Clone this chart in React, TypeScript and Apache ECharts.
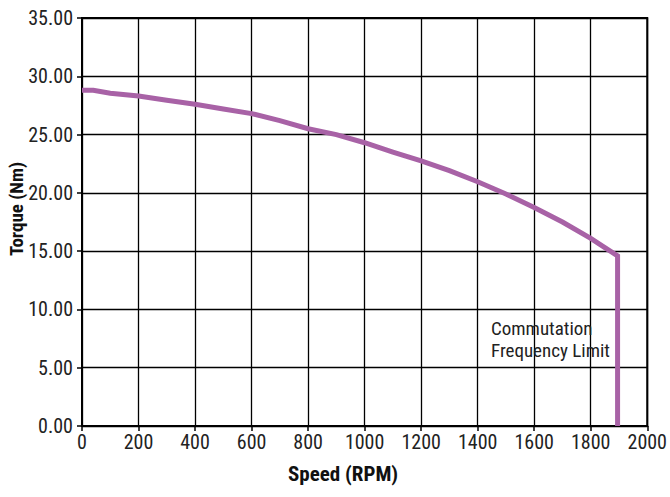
import React, { useEffect, useRef } from "react";
import * as echarts from "echarts";

const speed = [0, 40, 100, 200, 300, 400, 500, 600, 700, 800, 900, 1000, 1100, 1200, 1300, 1400, 1500, 1600, 1700, 1800, 1850, 1895, 1895];
const torque = [28.8, 28.8, 28.55, 28.3, 27.95, 27.6, 27.2, 26.8, 26.2, 25.5, 25.0, 24.3, 23.5, 22.75, 21.9, 20.95, 19.9, 18.75, 17.5, 16.1, 15.3, 14.6, 0];
const xTicks = [0, 200, 400, 600, 800, 1000, 1200, 1400, 1600, 1800, 2000];
const xName = "Speed (RPM)";
const yName = "Torque (Nm)";
const note = "Commutation\nFrequency Limit";

const FONT = "'Roboto Condensed', 'Liberation Sans', sans-serif";

export default function App() {
  const ref = useRef<HTMLDivElement>(null);
  useEffect(() => {
    const chart = echarts.init(ref.current!, null, { renderer: "svg" });
    chart.setOption({
      animation: false,
      grid: { left: 82, right: 22, top: 18, bottom: 71, show: true, borderColor: "#000", borderWidth: 2, backgroundColor: "#fff" },
      xAxis: {
        type: "value",
        min: 0,
        max: 2000,
        interval: 200,
        axisLine: { show: true, lineStyle: { color: "#000", width: 2 } },
        axisTick: { show: true, length: 5, lineStyle: { color: "#000", width: 1.5 } },
        axisLabel: { color: "#222", fontFamily: FONT, fontSize: 20, margin: 6, formatter: (v: number) => (xTicks.includes(v) ? String(v) : "") },
        splitLine: { show: true, lineStyle: { color: "#000", width: 1.3 } },
      },
      yAxis: {
        type: "value",
        min: 0,
        max: 35,
        interval: 5,
        axisLine: { show: true, lineStyle: { color: "#000", width: 2 } },
        axisTick: { show: true, length: 5, lineStyle: { color: "#000", width: 1.5 } },
        axisLabel: { color: "#222", fontFamily: FONT, fontSize: 20, margin: 9, formatter: (v: number) => v.toFixed(2) },
        splitLine: { show: true, lineStyle: { color: "#000", width: 1.3 } },
      },
      series: [
        {
          type: "line",
          data: speed.map((s, i) => [s, torque[i]]),
          showSymbol: false,
          symbol: "none",
          lineStyle: { color: "#a862a6", width: 5, join: "miter" },
          z: 5,
        },
      ],
      graphic: [
        {
          type: "text",
          left: 288,
          top: 463,
          style: { text: xName, fontFamily: FONT, fontWeight: "bold", fontSize: 21, fill: "#111" },
        },
        {
          type: "text",
          x: 7,
          y: 256,
          rotation: Math.PI / 2,
          style: { text: yName, fontFamily: FONT, fontWeight: "bold", fontSize: 19, fill: "#111", textVerticalAlign: "top" },
        },
        {
          type: "text",
          left: 491,
          top: 317,
          z: 10,
          style: { text: note, fontFamily: FONT, fontSize: 19, lineHeight: 22, fill: "#222" },
        },
      ],
    });
    return () => chart.dispose();
  }, []);
  return <div ref={ref} style={{ position: "fixed", left: 0, top: 0, width: 670, height: 497, background: "#fff" }} />;
}
